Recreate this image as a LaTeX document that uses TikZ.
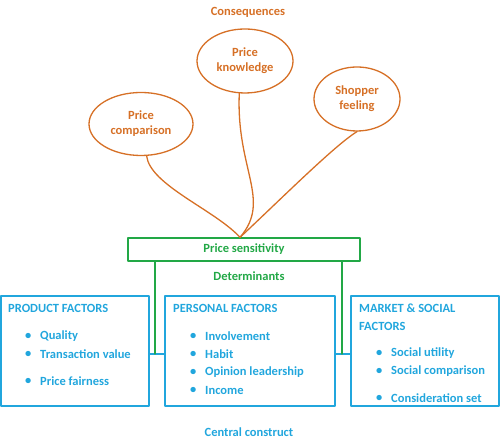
\documentclass[tikz,border=0pt]{standalone}
\usepackage{fontspec}
\setmainfont{Carlito}
\usepackage{tikz}
\usetikzlibrary{shapes.geometric}
\definecolor{conseq}{RGB}{214,112,38}
\definecolor{determ}{RGB}{34,168,70}
\definecolor{central}{RGB}{33,166,221}
\tikzset{
  every node/.style={font=\fontsize{12.5}{15}\selectfont\bfseries},
  conseqnode/.style={ellipse,draw=conseq,line width=1.3pt,text=conseq,align=center,inner sep=0pt},
  conseqline/.style={draw=conseq,line width=1.3pt},
  determbox/.style={rectangle,draw=determ,line width=1.3pt,text=determ,inner sep=0pt},
  determline/.style={draw=determ,line width=1.3pt},
  factorbox/.style={rectangle,draw=central,line width=1.5pt,inner sep=0pt},
  factorline/.style={draw=central,line width=1.5pt},
  factortext/.style={text=central,anchor=west,inner sep=0pt},
}

\begin{document}
\begin{tikzpicture}[line cap=round,line join=round,x=1pt,y=1pt]
    \useasboundingbox (0,0) rectangle (500,446);
    % consequences
    \node[text=conseq] (conseqlbl) at (248,434) {Consequences};
    \node[conseqnode,minimum width=96,minimum height=64] (know) at (245,385) {Price\\knowledge};
    \node[conseqnode,minimum width=86,minimum height=64] (shop) at (357,347) {Shopper\\feeling};
    \node[conseqnode,minimum width=104,minimum height=63] (comp) at (141,322) {Price\\comparison};
    % central construct
    \node[determbox,minimum width=232,minimum height=23] (ps) at (244,196.5) {Price sensitivity};
    \coordinate (hub) at ([xshift=-4pt]ps.north);
    \draw[conseqline] (comp.-80) .. controls (150,261) and (215,236) .. (hub);
    \draw[conseqline] (know.-100) .. controls (236,276) and (272,246) .. (hub);
    \draw[conseqline] (shop.south) .. controls (335,301) and (280,246) .. (hub);
    \node[text=determ] (determlbl) at (249,170) {Determinants};
    % factor boxes
    \node[factorbox,minimum width=148,minimum height=110] (prod) at (75,95) {};
    \node[factorbox,minimum width=170,minimum height=110] (pers) at (250,95) {};
    \node[factorbox,minimum width=148,minimum height=110] (mark) at (425,95) {};
    \coordinate (joinL) at (155,92);
    \coordinate (joinR) at (342,92);
    \draw[factorline] (prod.east |- joinL) -- (pers.west |- joinL);
    \draw[factorline] (pers.east |- joinR) -- (mark.west |- joinR);
    \draw[determline] (joinL |- ps.south) -- (joinL);
    \draw[determline] (joinR |- ps.south) -- (joinR);
    % product factors
    \node[factortext] (prodttl) at (8,138) {PRODUCT FACTORS};
    \node[factortext] (prodb1) at (25,110) {\textbullet};
    \node[factortext] (prodi1) at (40,110) {Quality};
    \node[factortext] (prodb2) at (25,92) {\textbullet};
    \node[factortext] (prodi2) at (40,92) {Transaction value};
    \node[factortext] (prodb3) at (25,65) {\textbullet};
    \node[factortext] (prodi3) at (40,65) {Price fairness};
    % personal factors
    \node[factortext] (persttl) at (173,138) {PERSONAL FACTORS};
    \node[factortext] (persb1) at (190,110) {\textbullet};
    \node[factortext] (persi1) at (205,110) {Involvement};
    \node[factortext] (persb2) at (190,92) {\textbullet};
    \node[factortext] (persi2) at (205,92) {Habit};
    \node[factortext] (persb3) at (190,74) {\textbullet};
    \node[factortext] (persi3) at (205,74) {Opinion leadership};
    \node[factortext] (persb4) at (190,56) {\textbullet};
    \node[factortext] (persi4) at (205,56) {Income};
    % market & social factors
    \node[factortext] (markttl) at (359,138) {MARKET \& SOCIAL};
    \node[factortext] (markttl2) at (359,120) {FACTORS};
    \node[factortext] (markb1) at (376,93) {\textbullet};
    \node[factortext] (marki1) at (391,93) {Social utility};
    \node[factortext] (markb2) at (376,75) {\textbullet};
    \node[factortext] (marki2) at (391,75) {Social comparison};
    \node[factortext] (markb3) at (376,48) {\textbullet};
    \node[factortext] (marki3) at (391,48) {Consideration set};
    \node[text=central] (centrallbl) at (249,14) {Central construct};
\end{tikzpicture}
\end{document}
